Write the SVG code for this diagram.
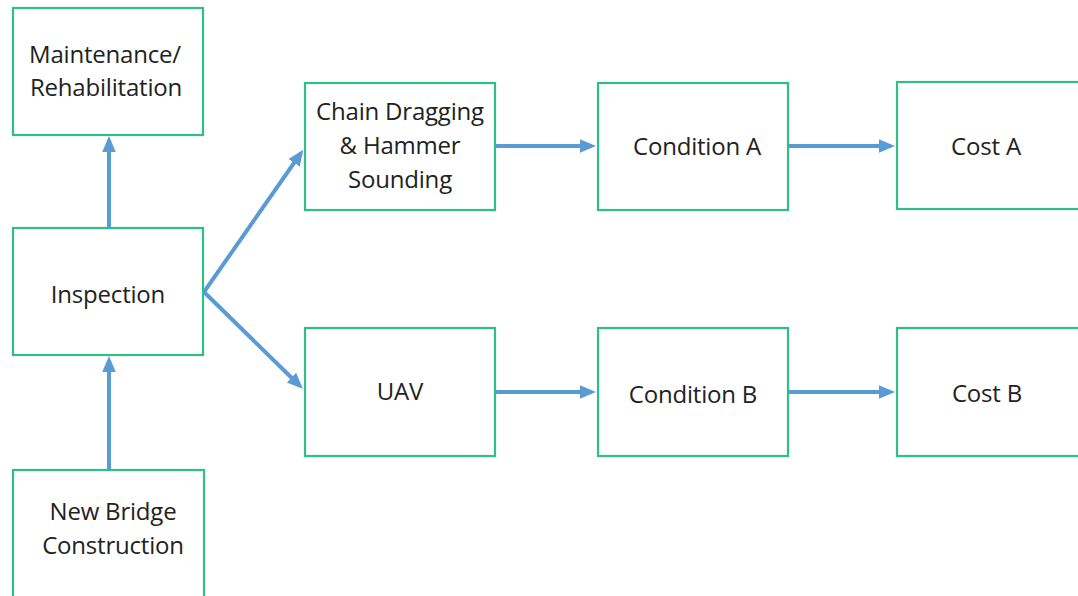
<svg xmlns="http://www.w3.org/2000/svg" width="1078" height="596" viewBox="0 0 1078 596">
<defs>
<style>
.box{fill:#fff;stroke:#2fbf86;stroke-width:2.2}
.t{font-family:"Open Sans","Noto Sans",sans-serif;font-size:24px;fill:#222;text-anchor:middle;letter-spacing:-0.2px}
.c{stroke:#5b9bd5;stroke-width:4;fill:none;marker-end:url(#ah)}
</style>
<marker id="ah" markerWidth="4" markerHeight="4" refX="3" refY="2" orient="auto" markerUnits="strokeWidth">
<path d="M0,0.3 L4,2 L0,3.7 Z" fill="#5b9bd5"/>
</marker>
</defs>
<rect width="1078" height="596" fill="#fff"/>
<g id="connectors">
<line class="c" x1="109" y1="228" x2="109" y2="140"/>
<line class="c" x1="109" y1="470" x2="109" y2="360"/>
<line class="c" x1="204" y1="292" x2="301" y2="153"/>
<line class="c" x1="204" y1="292" x2="300" y2="386"/>
<line class="c" x1="496" y1="146" x2="592" y2="146"/>
<line class="c" x1="496" y1="392" x2="592" y2="392"/>
<line class="c" x1="789" y1="146" x2="891" y2="146"/>
<line class="c" x1="789" y1="392" x2="891" y2="392"/>
</g>
<g id="maintenance">
<rect class="box" x="13" y="8" width="190" height="127"/>
<text class="t" x="105" y="63">Maintenance/</text>
<text class="t" x="106" y="96">Rehabilitation</text>
</g>
<g id="inspection">
<rect class="box" x="13" y="228" width="190" height="127"/>
<text class="t" x="108" y="303">Inspection</text>
</g>
<g id="newbridge">
<rect class="box" x="13" y="470" width="191" height="130"/>
<text class="t" x="113" y="520">New Bridge</text>
<text class="t" x="113" y="554">Construction</text>
</g>
<g id="chain">
<rect class="box" x="305" y="83" width="190" height="127"/>
<text class="t" x="400" y="120">Chain Dragging</text>
<text class="t" x="400" y="154">&amp; Hammer</text>
<text class="t" x="400" y="188">Sounding</text>
</g>
<g id="uav">
<rect class="box" x="305" y="328" width="190" height="128"/>
<text class="t" x="400" y="400">UAV</text>
</g>
<g id="condA">
<rect class="box" x="598" y="83" width="190" height="127"/>
<text class="t" x="697" y="155">Condition A</text>
</g>
<g id="condB">
<rect class="box" x="598" y="328" width="190" height="128"/>
<text class="t" x="693" y="403">Condition B</text>
</g>
<g id="costA">
<rect class="box" x="897" y="82" width="190" height="127"/>
<text class="t" x="986" y="155">Cost A</text>
</g>
<g id="costB">
<rect class="box" x="897" y="328" width="190" height="128"/>
<text class="t" x="987" y="402">Cost B</text>
</g>
</svg>
